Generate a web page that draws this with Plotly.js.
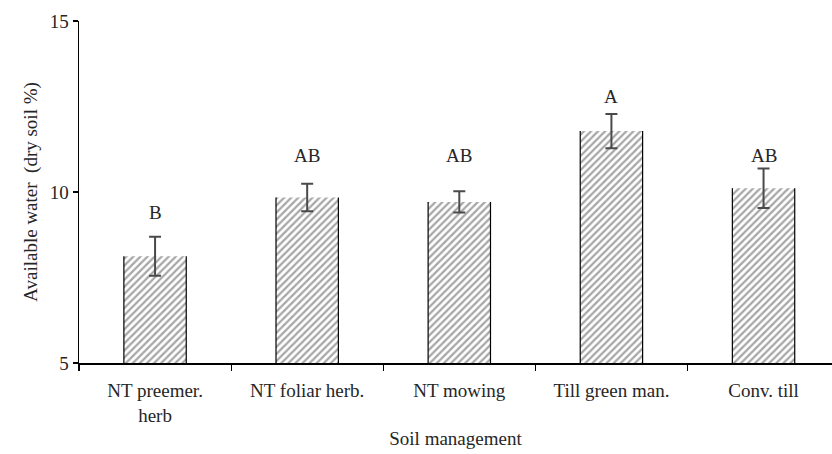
<!DOCTYPE html>
<html>
<head>
<meta charset="utf-8">
<script src="https://cdn.plot.ly/plotly-3.0.1.min.js"></script>
</head>
<body style="margin:0;padding:0;background:#fff">
<div id="chart" style="width:832px;height:454px"></div>
<script>
// Data
var categories = ["NT preemer.<br>herb", "NT foliar herb.", "NT mowing", "Till green man.", "Conv. till"];
var waterValues = [8.12, 9.84, 9.71, 11.78, 10.11];
var waterErrors = [0.57, 0.40, 0.31, 0.50, 0.58];
var groupLetters = ["B", "AB", "AB", "A", "AB"];
var letterHeights = [9.39, 11.08, 11.08, 12.78, 11.08];
var yTicks = [5, 10, 15];

var FONT = "Liberation Serif";
var FS = 19;
var TXT = "#262626";
var BAR_WIDTH = 0.41;
var Y_BASE = 5;

var bars = {
  type: "bar",
  x: categories,
  y: waterValues.map(function(v){ return v - Y_BASE; }),
  base: Y_BASE,
  width: BAR_WIDTH,
  marker: {
    color: "#ffffff",
    line: {width: 0},
    pattern: {shape: "/", fgcolor: "#a6a6a6", bgcolor: "#ffffff", size: 5, solidity: 0.45}
  },
  error_y: {type: "data", array: waterErrors, visible: true, color: "#4a4a4a", thickness: 2, width: 6},
  hoverinfo: "skip",
  showlegend: false
};

// Black vertical edges of each bar (derived from data)
var ex = [], ey = [];
waterValues.forEach(function(v, i){
  [-1, 1].forEach(function(s){
    ex.push(i + s * BAR_WIDTH / 2, i + s * BAR_WIDTH / 2, null);
    ey.push(Y_BASE, v, null);
  });
});
var edges = {
  type: "scatter", mode: "lines", x: ex, y: ey, xaxis: "x2",
  line: {color: "#000", width: 1.2}, hoverinfo: "skip", showlegend: false, connectgaps: false
};

var annotations = groupLetters.map(function(t, i){
  return {x: categories[i], y: letterHeights[i], xref: "x", yref: "y", text: t, showarrow: false,
          font: {family: FONT, size: FS, color: TXT}};
});

var layout = {
  width: 832, height: 454,
  margin: {l: 79, r: 0, t: 21, b: 91},
  paper_bgcolor: "#fff", plot_bgcolor: "#fff",
  xaxis: {
    type: "category", range: [-0.5, 4.45], tickson: "boundaries",
    ticks: "outside", ticklen: 6, tickwidth: 1.2, tickcolor: "#000",
    ticklabelstandoff: 10,
    showline: true, linecolor: "#000", linewidth: 1.5, showgrid: false, zeroline: false,
    tickfont: {family: FONT, size: FS, color: TXT},
    title: {text: "Soil management", font: {family: FONT, size: FS, color: TXT}, standoff: 6}
  },
  xaxis2: {overlaying: "x", range: [-0.5, 4.45], visible: false, showgrid: false, zeroline: false},
  yaxis: {
    range: [5, 15], tickvals: yTicks, ticktext: yTicks.map(String),
    ticks: "outside", ticklen: 5, tickwidth: 1.2, tickcolor: "#000",
    showline: true, linecolor: "#000", linewidth: 1.5, showgrid: false, zeroline: false,
    tickfont: {family: FONT, size: FS, color: TXT},
    title: {text: "Available water&nbsp;&nbsp;(dry soil %)", font: {family: FONT, size: FS, color: TXT}, standoff: 7}
  },
  annotations: annotations,
  bargap: 0.59
};

Plotly.newPlot("chart", [bars, edges], layout, {displayModeBar: false, staticPlot: true}).then(function(gd){
  gd.querySelectorAll("text").forEach(function(t){
    t.style.fontFamily = "'Liberation Serif', 'Times New Roman', serif";
  });
});
</script>
</body>
</html>
